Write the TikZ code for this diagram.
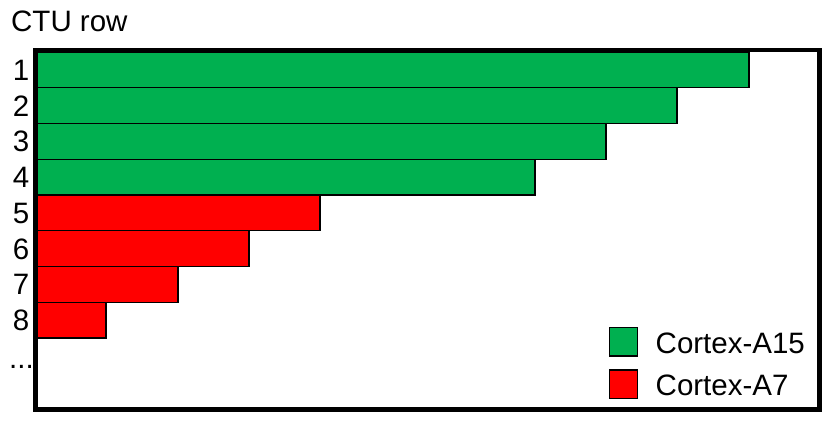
\documentclass[tikz,border=0pt]{standalone}
\usepackage{fontspec}
\setmainfont{Liberation Sans}
\definecolor{cgreen}{HTML}{00B050}
\definecolor{cred}{HTML}{FF0000}
\tikzset{
  txt/.style={font=\fontsize{29.5}{32}\selectfont, inner sep=0pt},
  bar/.style={draw=black, line width=1.4pt},
  frame/.style={draw=black, line width=4.5pt},
}
\begin{document}
\begin{tikzpicture}[x=1pt,y=-1pt]
\useasboundingbox (0,0) rectangle (832,426);
% bars
\foreach \i/\r/\c in {1/749/cgreen,2/677/cgreen,3/606/cgreen,4/535/cgreen,5/320/cred,6/249/cred,7/178/cred,8/106/cred}{
  \pgfmathsetmacro{\yt}{52+(\i-1)*35.75}
  \pgfmathsetmacro{\yb}{52+\i*35.75}
  \pgfmathsetmacro{\yc}{52+(\i-0.5)*35.75+10.5}
  \path[bar, fill=\c] (37,\yt) rectangle (\r,\yb);
  \node[txt, anchor=base] (n\i) at (21,\yc) {\i};
}
\node[txt, anchor=base] (dots) at (21.5,368) {...};
% frame
\draw[frame] (35.5,50) rectangle (819.5,409.5);
% title
\node[txt, anchor=base west] (title) at (11,31.7) {CTU row};
% legend
\path[bar, fill=cgreen] (609.5,327.5) rectangle (637.5,356);
\path[bar, fill=cred] (609.5,370) rectangle (637.5,398.5);
\node[txt, anchor=base west] (la15) at (655.5,353) {Cortex-A15};
\node[txt, anchor=base west] (la7) at (655.5,395) {Cortex-A7};
\end{tikzpicture}
\end{document}
